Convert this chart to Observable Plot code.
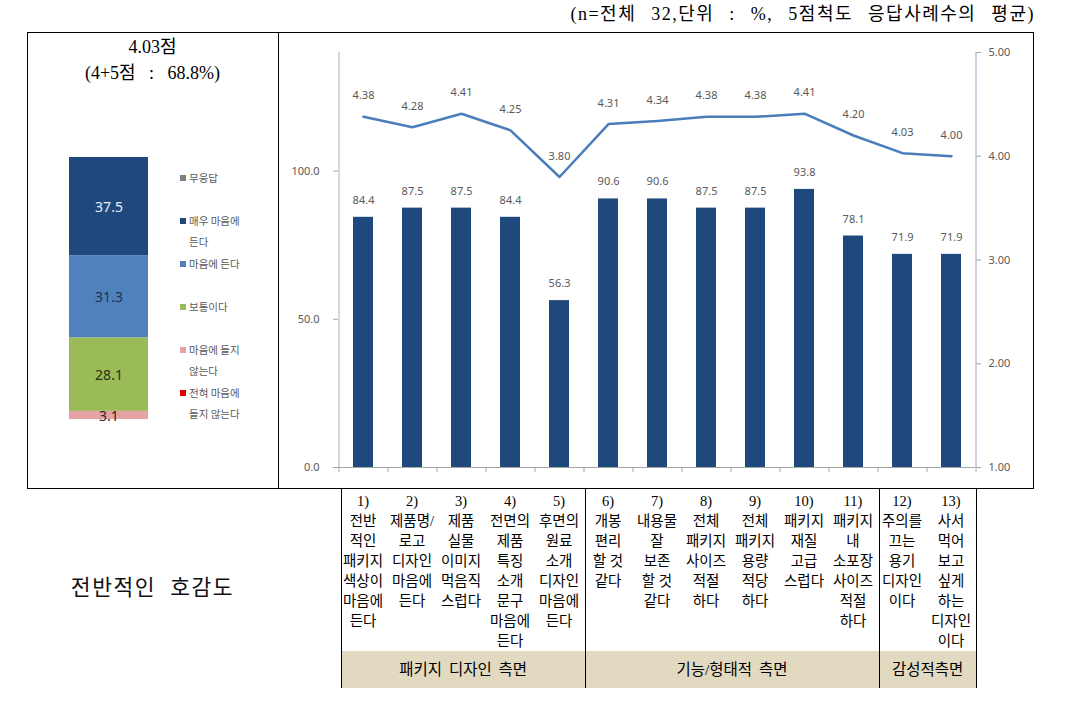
<!DOCTYPE html>
<html><head><meta charset="utf-8">
<script src="https://cdn.jsdelivr.net/npm/d3@7"></script>
<script src="https://cdn.jsdelivr.net/npm/@observablehq/plot@0.6"></script>
<style>
body{margin:0;background:#fff;}
#page{position:relative;width:1065px;height:715px;overflow:hidden;font-family:"Liberation Serif","Noto Sans CJK KR",serif;color:#000;}
.abs{position:absolute;}
.ln{position:absolute;background:#000;}
</style></head><body><div id="page"></div>
<script>
// ---------- data ----------
const headerNote = "(n=전체 32,단위 : %, 5점척도 응답사례수의 평균)";
const overallMean = "4.03점";
const overallTop2 = "(4+5점 : 68.8%)";
const sideTitle = "전반적인 호감도";

const itemNumbers = ["1)","2)","3)","4)","5)","6)","7)","8)","9)","10)","11)","12)","13)"];
const itemLabels = [
  "전반\n적인\n패키지\n색상이\n마음에\n든다",
  "제품명/\n로고\n디자인\n마음에\n든다",
  "제품\n실물\n이미지\n먹음직\n스럽다",
  "전면의\n제품\n특징\n소개\n문구\n마음에\n든다",
  "후면의\n원료\n소개\n디자인\n마음에\n든다",
  "개봉\n편리\n할 것\n같다",
  "내용물\n잘\n보존\n할 것\n같다",
  "전체\n패키지\n사이즈\n적절\n하다",
  "전체\n패키지\n용량\n적당\n하다",
  "패키지\n재질\n고급\n스럽다",
  "패키지\n내\n소포장\n사이즈\n적절\n하다",
  "주의를\n끄는\n용기\n디자인\n이다",
  "사서\n먹어\n보고\n싶게\n하는\n디자인\n이다"
];
const topBoxPct = [84.4,87.5,87.5,84.4,56.3,90.6,90.6,87.5,87.5,93.8,78.1,71.9,71.9];
const meanScores = [4.38,4.28,4.41,4.25,3.80,4.31,4.34,4.38,4.38,4.41,4.20,4.03,4.00];
const groupNames = ["패키지 디자인 측면","기능/형태적 측면","감성적측면"];
const groupSizes = [5,6,2];
const leftAxisTicks = [0,50,100];
const rightAxisTicks = [1,2,3,4,5];

// stacked overall bar (bottom to top)
const overallCategories = ["전혀 마음에 들지 않는다","마음에 들지 않는다","보통이다","마음에 든다","매우 마음에 든다","무응답"];
const overallValues = [0,3.1,28.1,31.3,37.5,0];
const overallColors = ["#e00000","#e6a3a3","#9bbb59","#4f81bd","#1f497d","#7f7f7f"];
const overallLabelColors = ["#000","#3a2020","#26330f","#1f3050","#e8eef6","#000"];

// ---------- layout ----------
const page = document.getElementById("page");
function div(cls, css, text){ const d=document.createElement("div"); d.className=cls; Object.assign(d.style,css); if(text!=null) d.textContent=text; page.appendChild(d); return d; }

div("abs",{right:"30px",top:"2px",fontSize:"18px",letterSpacing:"1.5px",wordSpacing:"9px",lineHeight:"24px",whiteSpace:"nowrap"},headerNote);

// outer box
const BX0=27,BX1=1033,BY0=32,BY1=488,DIV=278;
div("ln",{left:BX0+"px",top:BY0+"px",width:(BX1-BX0+1)+"px",height:"1px"});
div("ln",{left:BX0+"px",top:BY1+"px",width:(BX1-BX0+1)+"px",height:"1px"});
div("ln",{left:BX0+"px",top:BY0+"px",width:"1px",height:(BY1-BY0)+"px"});
div("ln",{left:BX1+"px",top:BY0+"px",width:"1px",height:(BY1-BY0)+"px"});
div("ln",{left:DIV+"px",top:BY0+"px",width:"1px",height:(BY1-BY0)+"px"});

// left panel titles
div("abs",{left:BX0+"px",width:(DIV-BX0)+"px",top:"34px",textAlign:"center",fontSize:"18px",lineHeight:"26px"},overallMean);
div("abs",{left:BX0+"px",width:(DIV-BX0)+"px",top:"60px",textAlign:"center",fontSize:"18px",wordSpacing:"9px",lineHeight:"26px",whiteSpace:"pre"},overallTop2);

// ---------- left stacked bar ----------
const overall = overallCategories.map((c,i)=>({group:"전체",cat:c,value:overallValues[i],color:overallColors[i],lc:overallLabelColors[i]}));
const left = Plot.plot({
  width:251,height:455,marginLeft:42,marginRight:130,marginTop:124,marginBottom:69,
  style:{fontFamily:"'Noto Sans', sans-serif",background:"transparent",overflow:"visible"},
  x:{type:"band",domain:["전체"],padding:0,axis:null},
  y:{domain:[0,100],axis:null},
  color:{type:"identity"},
  marks:[
    Plot.barY(overall,Plot.stackY({x:"group",y:"value",z:"cat",fill:"color",order:null})),
    Plot.text(overall,Plot.stackY({filter:d=>d.value>0,x:"group",y:"value",z:"cat",order:null,text:d=>d.value.toFixed(1),fill:"lc",fontSize:14,dy:1}))
  ]
});
left.style.position="absolute"; left.style.left=BX0+"px"; left.style.top="33px";
page.appendChild(left);

// legend (top to bottom = reverse stack order)
const legendOrder = overallCategories.map((c,i)=>i).reverse();
legendOrder.forEach((idx,k)=>{
  const top = 166.5 + 43*k;
  div("abs",{left:"180px",top:(top+8)+"px",width:"6px",height:"6px",background:overallColors[idx]});
  div("abs",{left:"189px",top:top+"px",width:"64px",fontFamily:"'Noto Sans CJK KR',sans-serif",fontSize:"10.5px",lineHeight:"21px",color:"#595959",wordBreak:"keep-all"},overallCategories[idx]);
});

div("abs",{left:BX0+"px",width:(DIV-BX0)+"px",top:"570px",textAlign:"center",fontFamily:"'Noto Sans CJK KR',sans-serif",fontSize:"21.5px",letterSpacing:"1.5px",wordSpacing:"8px",lineHeight:"32px",color:"#111"},sideTitle);

// ---------- main combo chart ----------
const items = itemNumbers.map((n,i)=>({key:n,pct:topBoxPct[i],score:meanScores[i]}));
const W=755,H=455,mL=60,mR=58,mT=19,mB=21;
const step=(W-mL-mR)/itemNumbers.length;
const toLeft = d3.scaleLinear([1,5],[0,140]);
const chart = Plot.plot({
  width:W,height:H,marginLeft:mL,marginRight:mR,marginTop:mT,marginBottom:mB,
  style:{fontFamily:"'Noto Sans', sans-serif",fontSize:"11px",color:"#595959",background:"transparent",overflow:"visible"},
  x:{type:"band",domain:itemNumbers,paddingInner:0.6,paddingOuter:0.3,axis:null},
  y:{domain:[0,140],axis:null},
  marks:[
    Plot.barY(items,{x:"key",y:"pct",fill:"#1f497d"}),
    Plot.ruleY([0],{stroke:"#a6a6a6"}),
    Plot.ruleX([itemNumbers[0]],{dx:-step/2,stroke:"#b0b0b0"}),
    Plot.ruleX([itemNumbers[itemNumbers.length-1]],{dx:step/2,stroke:"#9aa6bd"}),
    Plot.ruleX(itemNumbers,{dx:step/2,y1:0,y2:0,insetBottom:-5,stroke:"#a6a6a6"}),
    Plot.ruleX([itemNumbers[0]],{dx:-step/2,y1:0,y2:0,insetBottom:-5,stroke:"#a6a6a6"}),
    Plot.axisY(leftAxisTicks,{anchor:"left",tickSize:5,tickPadding:14,tickFormat:d3.format(".1f"),label:null,stroke:"#a6a6a6",fill:"#595959"}),
    Plot.axisY(rightAxisTicks,{anchor:"right",y:toLeft,tickSize:5,tickPadding:8,tickFormat:d3.format(".2f"),label:null,stroke:"#a6a6a6",fill:"#595959"}),
    Plot.lineY(items,{x:"key",y:d=>toLeft(d.score),stroke:"#4a7ebb",strokeWidth:2.5}),
    Plot.text(items,{x:"key",y:"pct",text:d=>d.pct.toFixed(1),dy:-17,fill:"#595959"}),
    Plot.text(items,{x:"key",y:d=>toLeft(d.score),text:d=>d.score.toFixed(2),dy:-21,fill:"#595959"})
  ]
});
const CX=DIV, CY=33;
chart.style.position="absolute"; chart.style.left=CX+"px"; chart.style.top=CY+"px";
page.appendChild(chart);

// ---------- table under chart ----------
const xs = chart.scale("x");
const bw = xs.bandwidth, st = xs.step;
const center = k => CX + xs.apply(k) + bw/2;
const boundary = i => center(itemNumbers[0]) - st/2 + i*st + 2.5 - i*0.12;
const TY0=BY1, TY1=688, BEIGE=651;
// beige row
let acc=0;
groupSizes.forEach((n,g)=>{
  const x0=boundary(acc), x1=boundary(acc+n);
  div("abs",{left:x0+"px",top:BEIGE+"px",width:(x1-x0)+"px",height:(TY1-BEIGE)+"px",background:"#e1dac1"});
  div("abs",{left:x0+"px",top:BEIGE+"px",width:(x1-x0)+"px",height:(TY1-BEIGE)+"px",lineHeight:(TY1-BEIGE)+"px",textAlign:"center",fontSize:"15.5px",wordSpacing:"3px",whiteSpace:"nowrap"},groupNames[g]);
  acc+=n;
});
// vertical lines
acc=0;
[0,...groupSizes].forEach(n=>{ acc+=n; const x=boundary(acc); div("ln",{left:Math.round(x)+"px",top:TY0+"px",width:"1px",height:(TY1-TY0)+"px"}); });
// item texts
itemNumbers.forEach((k,i)=>{
  const cx=center(k);
  div("abs",{left:(cx-30)+"px",width:"60px",top:"491px",textAlign:"center",fontSize:"14.5px",lineHeight:"20px",whiteSpace:"pre"},k+"\n"+itemLabels[i]);
});
</script></body></html>
